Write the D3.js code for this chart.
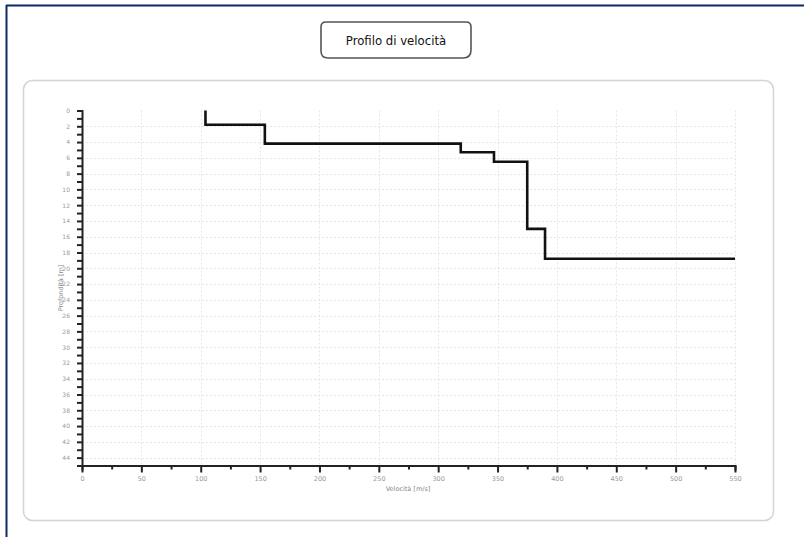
<!DOCTYPE html>
<html>
<head>
<meta charset="utf-8">
<script src="https://cdn.jsdelivr.net/npm/d3@7"></script>
<style>
  html, body { margin: 0; padding: 0; background: #fff; }
  svg { display: block; }
</style>
</head>
<body>
<svg id="chart" width="804" height="537"></svg>
<script>
// Shear-wave velocity profile: one velocity per layer, interface depths between layers
const layerVelocities = [104, 154, 319, 347, 375, 390, 550];   // m/s
const interfaceDepths = [1.8, 4.2, 5.3, 6.5, 15.0, 18.8];      // m
const xTickValues = d3.range(0, 551, 50);
const yTickValues = d3.range(0, 45, 2);
const chartTitle = "Profilo di velocità";
const xTitle = "Velocità [m/s]";
const yTitle = "Profondità [m]";

const svg = d3.select("#chart");

// outer frame (dark blue rule at top and left)
svg.append("line").attr("x1", 6).attr("x2", 804).attr("y1", 5.5).attr("y2", 5.5)
  .attr("stroke", "#0f2a63").attr("stroke-width", 2);
svg.append("line").attr("x1", 6.5).attr("x2", 6.5).attr("y1", 5).attr("y2", 537)
  .attr("stroke", "#0f2a63").attr("stroke-width", 2);

// chart panel
svg.append("rect").attr("x", 23.5).attr("y", 80.5).attr("width", 750).attr("height", 440)
  .attr("rx", 9).attr("fill", "#fff").attr("stroke", "#d4d4d4").attr("stroke-width", 1.5);

// title box
const tb = svg.append("g");
tb.append("path")
  .attr("d", "M326,22 L466,22 Q471,22 471,27 L471,50 Q471,58 463,58 L328,58 Q321,58 321,51 L321,27 Q321,22 326,22 Z")
  .attr("fill", "#fff").attr("stroke", "#555").attr("stroke-width", 1.6);
tb.append("text").attr("x", 396).attr("y", 44.5).attr("text-anchor", "middle")
  .attr("font-family", "'DejaVu Sans Condensed', 'DejaVu Sans', sans-serif")
  .attr("font-size", 13).attr("fill", "#111").text(chartTitle);

// plot area
const x = d3.scaleLinear().domain([0, 550]).range([82, 735]);
const y = d3.scaleLinear().domain([0, 45]).range([110.5, 465.5]);

// grid
const grid = svg.append("g").attr("stroke", "#e6e6e6").attr("stroke-width", 1)
  .attr("stroke-dasharray", "2,2");
grid.selectAll("line.gx").data(xTickValues.slice(1)).join("line")
  .attr("x1", d => Math.round(x(d)) + 0.5).attr("x2", d => Math.round(x(d)) + 0.5)
  .attr("y1", y(0)).attr("y2", y(45));
grid.selectAll("line.gy").data(yTickValues.slice(1)).join("line")
  .attr("x1", x(0)).attr("x2", x(550))
  .attr("y1", d => Math.round(y(d)) + 0.5).attr("y2", d => Math.round(y(d)) + 0.5);

// x axis: minor ticks every 25, labelled every 50
const xAxis = svg.append("g").attr("transform", `translate(0,${y(45)})`)
  .call(d3.axisBottom(x).tickValues(d3.range(0, 551, 25)).tickSize(5)
    .tickFormat(d => d % 50 === 0 ? d : ""));
xAxis.select(".domain").attr("stroke", "#222").attr("stroke-width", 2);
xAxis.selectAll(".tick line").attr("stroke", "#222").attr("stroke-width", 2)
  .attr("y2", d => d % 50 === 0 ? 7 : 4);
xAxis.selectAll(".tick text").attr("font-family", "'DejaVu Sans', sans-serif")
  .attr("font-size", 6.5).attr("fill", "#999").attr("dy", "1.1em");

// y axis: minor ticks every 1, labelled every 2
const yAxis = svg.append("g").attr("transform", `translate(${x(0)},0)`)
  .call(d3.axisLeft(y).tickValues(d3.range(0, 46, 1)).tickSize(5)
    .tickFormat(d => d % 2 === 0 && d < 45 ? d : ""));
yAxis.select(".domain").attr("stroke", "#222").attr("stroke-width", 2);
yAxis.selectAll(".tick line").attr("stroke", "#222").attr("stroke-width", 2);
yAxis.selectAll(".tick text").attr("font-family", "'DejaVu Sans', sans-serif")
  .attr("font-size", 6).attr("fill", "#999").attr("x", -12);

// axis titles
svg.append("text").attr("x", 408).attr("y", 491).attr("text-anchor", "middle")
  .attr("font-family", "'DejaVu Sans', sans-serif").attr("font-size", 6.5)
  .attr("fill", "#888").text(xTitle);
svg.append("text").attr("transform", `translate(63,288) rotate(-90)`)
  .attr("text-anchor", "middle")
  .attr("font-family", "'DejaVu Sans', sans-serif").attr("font-size", 6.5)
  .attr("fill", "#888").text(yTitle);

// step profile: vertical through each layer, horizontal at each interface
const pts = [[layerVelocities[0], 0]];
interfaceDepths.forEach((d, i) => {
  pts.push([layerVelocities[i], d]);
  pts.push([layerVelocities[i + 1], d]);
});
svg.append("path")
  .attr("d", d3.line().x(p => x(p[0])).y(p => y(p[1]))(pts))
  .attr("fill", "none").attr("stroke", "#111").attr("stroke-width", 2.6)
  .attr("stroke-linejoin", "miter");
</script>
</body>
</html>
